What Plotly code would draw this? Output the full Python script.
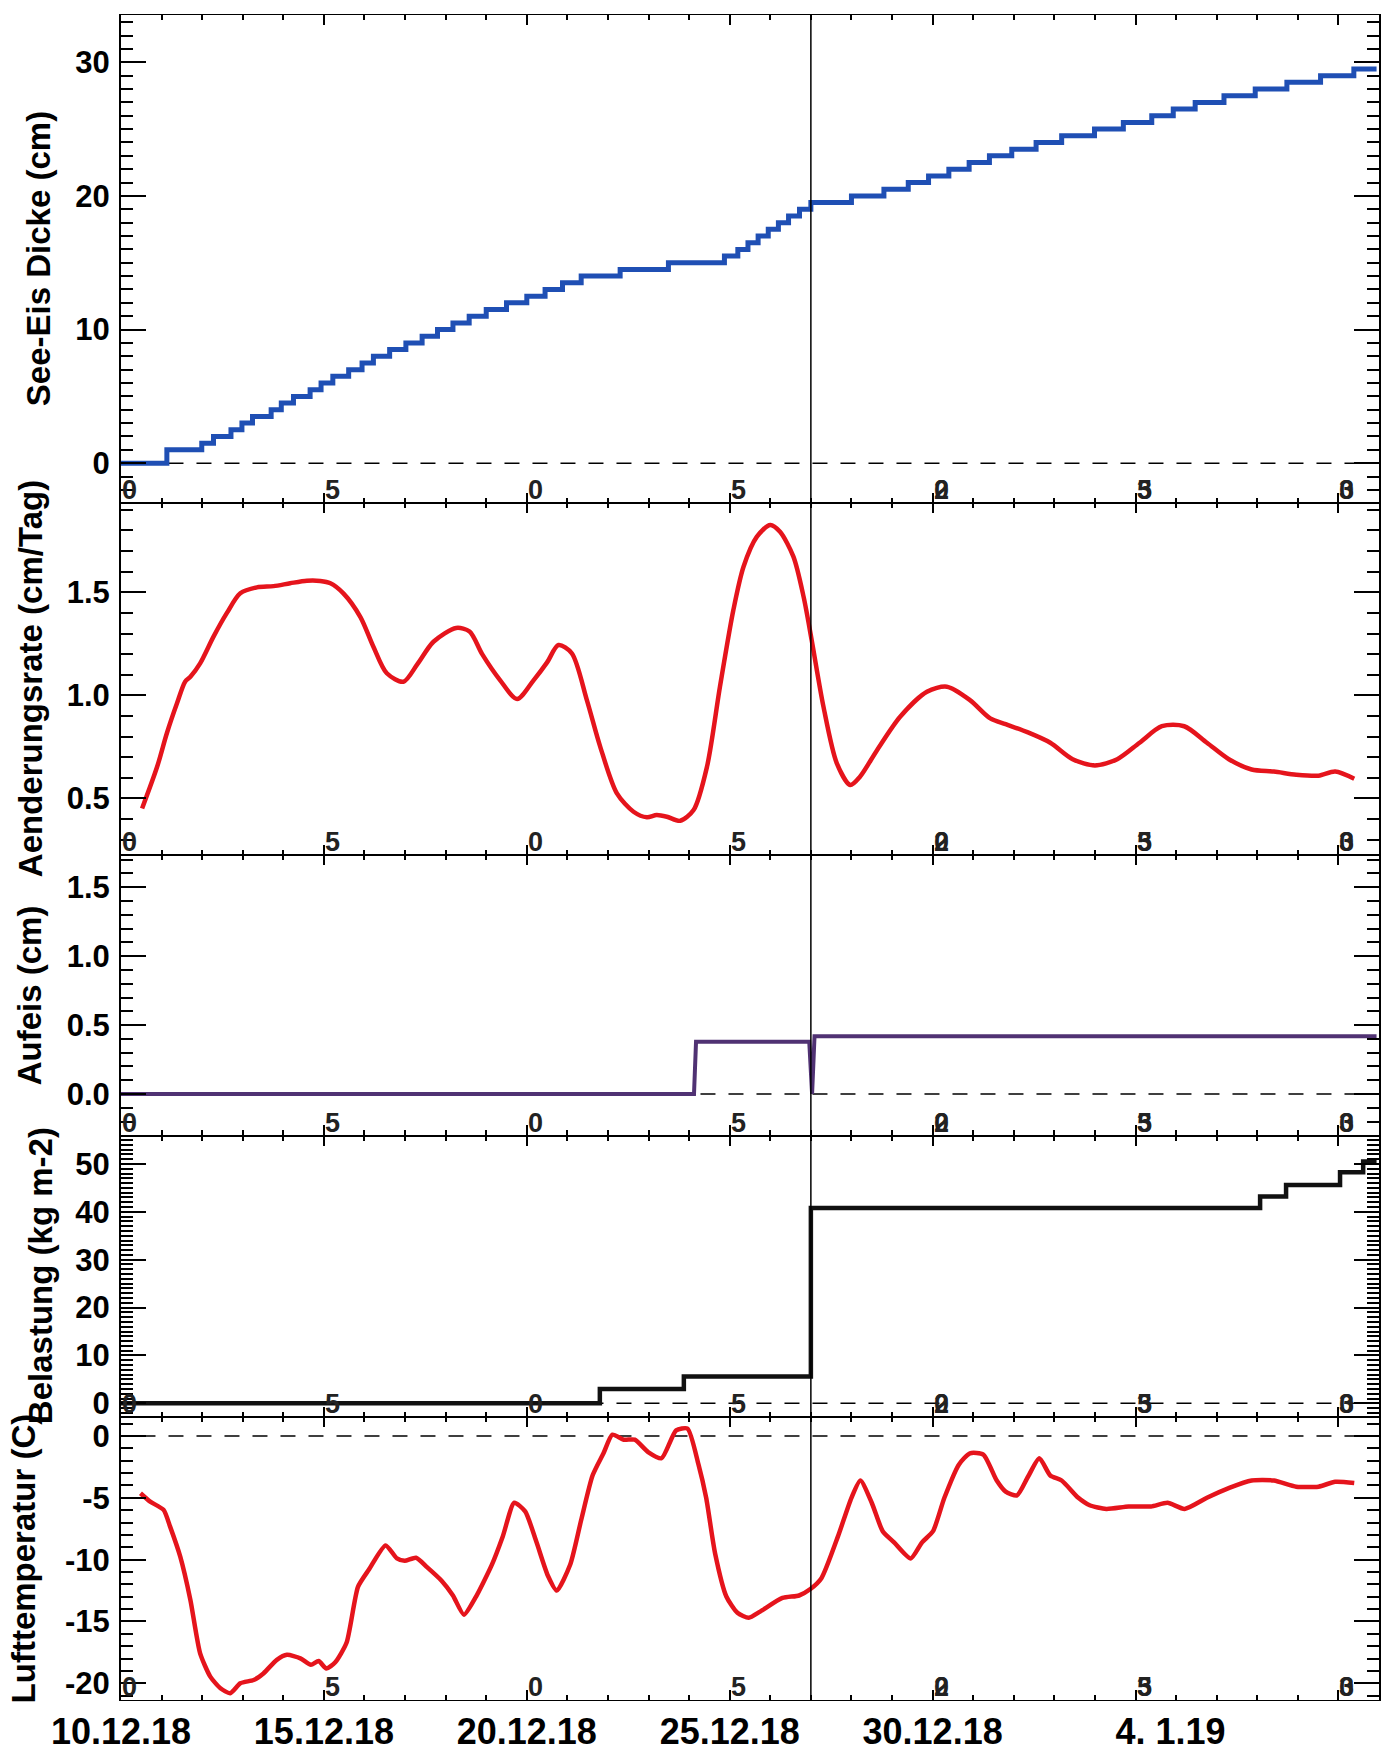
import plotly.graph_objects as go

# ---------------- data (days since 10.12.18) ----------------
ice_days = [0.0, 1.13, 1.99, 2.28, 2.71, 2.98, 3.24, 3.70, 3.95, 4.25, 4.66, 4.93, 5.22, 5.61, 5.94,
            6.22, 6.62, 7.02, 7.42, 7.80, 8.18, 8.58, 9.00, 9.50, 10.00, 10.45, 10.88, 11.34, 12.30,
            13.49, 14.87, 15.20, 15.45, 15.70, 15.95, 16.20, 16.45, 16.72, 17.00, 18.00, 18.80, 19.40,
            19.90, 20.40, 20.90, 21.40, 21.95, 22.55, 23.18, 23.99, 24.70, 25.40, 25.93, 26.47, 27.18,
            27.95, 28.73, 29.56, 30.38, 30.94]
ice_cm = [0.0, 1.0, 1.5, 2.0, 2.5, 3.0, 3.5, 4.0, 4.5, 5.0, 5.5, 6.0, 6.5, 7.0, 7.5,
          8.0, 8.5, 9.0, 9.5, 10.0, 10.5, 11.0, 11.5, 12.0, 12.5, 13.0, 13.5, 14.0, 14.5,
          15.0, 15.5, 16.0, 16.5, 17.0, 17.5, 18.0, 18.5, 19.0, 19.5, 20.0, 20.5, 21.0,
          21.5, 22.0, 22.5, 23.0, 23.5, 24.0, 24.5, 25.0, 25.5, 26.0, 26.5, 27.0, 27.5,
          28.0, 28.5, 29.0, 29.5, 29.5]

rate_days = [0.52, 0.89, 1.13, 1.38, 1.58, 1.71, 1.95, 2.28, 2.61, 2.94,
             3.35, 3.76, 4.17, 4.58, 4.91, 5.16, 5.48, 5.90, 6.22, 6.55,
             6.96, 7.3, 7.7, 8.26, 8.59, 8.9, 9.34, 9.76, 10.17, 10.5,
             10.78, 11.11, 11.48, 11.81, 12.22, 12.63, 12.96, 13.2, 13.45, 13.78,
             14.11, 14.44, 14.76, 15.09, 15.34, 15.67, 16.0, 16.24, 16.57, 16.82,
             17.02, 17.31, 17.64, 17.97, 18.21, 18.63, 19.2, 19.86, 20.35, 20.92,
             21.42, 21.80, 22.35, 22.90, 23.45, 24.0, 24.55, 25.1, 25.65, 26.2,
             26.76, 27.3, 27.86, 28.41, 28.96, 29.51, 29.92, 30.39]
rate_vals = [0.451, 0.653, 0.816, 0.961, 1.066, 1.09, 1.155, 1.285, 1.40, 1.495,
             1.524, 1.53, 1.544, 1.556, 1.555, 1.544, 1.495, 1.38, 1.236, 1.107,
             1.066, 1.15, 1.26, 1.327, 1.31, 1.2, 1.074, 0.982, 1.074, 1.16,
             1.244, 1.204, 0.977, 0.75, 0.524, 0.435, 0.408, 0.419, 0.411, 0.391,
             0.443, 0.653, 1.042, 1.414, 1.624, 1.77, 1.827, 1.794, 1.673, 1.479,
             1.268, 0.945, 0.670, 0.565, 0.605, 0.734, 0.896, 1.017, 1.042, 0.977,
             0.888, 0.86, 0.82, 0.77, 0.69, 0.66, 0.69, 0.77, 0.85, 0.85,
             0.77, 0.69, 0.64, 0.63, 0.615, 0.61, 0.63, 0.595]

aufeis_days = [0.0, 14.12, 14.17, 16.96, 17.03, 17.09, 30.94]
aufeis_cm = [0.0, 0.0, 0.38, 0.38, 0.0, 0.42, 0.42]

load_days = [0.0, 11.80, 13.87, 17.00, 28.07, 28.71, 30.04, 30.61, 30.94]
load_vals = [0.0, 3.0, 5.6, 40.8, 43.2, 45.6, 48.3, 50.5, 50.5]

temp_days = [0.48, 0.72, 1.05, 1.21, 1.46, 1.71, 1.95, 2.2, 2.45, 2.69,
             2.94, 3.27, 3.51, 3.84, 4.09, 4.42, 4.68, 4.87, 5.06, 5.28,
             5.56, 5.84, 6.11, 6.52, 6.80, 6.99, 7.27, 7.54, 7.90, 8.18,
             8.45, 8.73, 9.14, 9.41, 9.69, 9.96, 10.24, 10.52, 10.74, 11.07,
             11.34, 11.62, 11.89, 12.11, 12.39, 12.66, 12.99, 13.32, 13.68, 13.96,
             14.23, 14.42, 14.64, 14.92, 15.19, 15.47, 15.75, 16.30, 16.71, 16.98,
             17.26, 17.67, 18.00, 18.22, 18.50, 18.77, 19.05, 19.46, 19.74, 20.01,
             20.29, 20.65, 20.92, 21.25, 21.58, 21.80, 22.08, 22.35, 22.63, 22.90,
             23.18, 23.59, 23.87, 24.28, 24.83, 25.38, 25.79, 26.21, 26.76, 27.31,
             27.86, 28.41, 28.96, 29.51, 29.92, 30.39]
temp_vals = [-4.63, -5.31, -5.98, -7.33, -9.76, -13.26, -17.58, -19.46, -20.4, -20.8,
             -20.0, -19.73, -19.2, -18.1, -17.7, -17.98, -18.5, -18.2, -18.8, -18.3,
             -16.7, -12.2, -10.8, -8.85, -9.9, -10.1, -9.85, -10.6, -11.7, -12.9,
             -14.45, -13.1, -10.4, -8.1, -5.4, -6.1, -8.6, -11.3, -12.5, -10.4,
             -6.8, -3.2, -1.4, 0.1, -0.3, -0.3, -1.3, -1.8, 0.45, 0.6,
             -2.3, -5.0, -9.5, -13.0, -14.3, -14.7, -14.2, -13.1, -12.9, -12.4,
             -11.5, -8.1, -5.0, -3.6, -5.4, -7.7, -8.6, -9.9, -8.6, -7.7,
             -5.0, -2.3, -1.4, -1.5, -3.6, -4.5, -4.8, -3.3, -1.8, -3.2,
             -3.6, -5.0, -5.6, -5.9, -5.7, -5.7, -5.4, -5.9, -5.0, -4.2,
             -3.6, -3.6, -4.1, -4.1, -3.7, -3.8]

marker_day = 17.0
date_ticks = [0, 5, 10, 15, 20, 25, 30]
date_labels = ["10.12.18", "15.12.18", "20.12.18", "25.12.18", "30.12.18",
               "\u00a0\u00a0\u00a0\u00a0\u00a0\u00a0\u00a04. 1.19", ""]
temp_ticks = [-20, -15, -10, -5, 0]
temp_tick_labels = ["-20", "-15", "-10", "-5", "0"]
stub_days = [0, 5, 10, 15, 20, 25, 30]
stub_text = ["0", "5", "0", "5", "0", "5", "0"]
stub_over = ["", "", "", "", "2", "3", "3"]

titles = ["See-Eis Dicke (cm)", "Aenderungsrate (cm/Tag)", "Aufeis (cm)",
          "Belastung (kg m-2)", "Lufttemperatur (C)"]

# ---------------- styling ----------------
BLUE = "#1f4fb4"
RED = "#e5141c"
PURPLE = "#503273"
BLACK = "#111111"
W, H = 1390, 1752
ML, MR, MT, MB = 121, 11, 15, 52
bounds = [0.0, 0.16807, 0.33501, 0.50148, 0.71021, 1.0]
domains = [[bounds[4], bounds[5]], [bounds[3], bounds[4]], [bounds[2], bounds[3]],
           [bounds[1], bounds[2]], [bounds[0], bounds[1]]]
yranges = [[-3.0, 33.54], [0.225, 1.932], [-0.301, 1.734], [-2.82, 55.95], [-21.35, 1.55]]
ydt = [10, 0.5, 0.5, 10, 5]
ymin = [1, 0.1, 0.1, 1, 1]
yfmt = ["", ".1f", ".1f", "", ""]
title_px = [38, 30, 29, 40, 23]

fig = go.Figure()
fig.add_trace(go.Scatter(x=ice_days, y=ice_cm, mode="lines",
                         line=dict(color=BLUE, width=5, shape="hv"), xaxis="x", yaxis="y"))
fig.add_trace(go.Scatter(x=rate_days, y=rate_vals, mode="lines",
                         line=dict(color=RED, width=4.5, shape="spline", smoothing=0.8),
                         xaxis="x2", yaxis="y2"))
fig.add_trace(go.Scatter(x=aufeis_days, y=aufeis_cm, mode="lines",
                         line=dict(color=PURPLE, width=4), xaxis="x3", yaxis="y3"))
fig.add_trace(go.Scatter(x=load_days, y=load_vals, mode="lines",
                         line=dict(color=BLACK, width=4.5, shape="hv"), xaxis="x4", yaxis="y4"))
fig.add_trace(go.Scatter(x=temp_days, y=temp_vals, mode="lines",
                         line=dict(color=RED, width=4.5, shape="spline", smoothing=0.6),
                         xaxis="x5", yaxis="y5"))

tickfont = dict(family="Liberation Sans, Arial, sans-serif", size=31, color="black", weight="bold")
narrow = "Liberation Sans Narrow, Arial Narrow, Liberation Sans, sans-serif"

layout = dict(width=W, height=H, margin=dict(l=ML, r=MR, t=MT, b=MB, autoexpand=False),
              plot_bgcolor="white", paper_bgcolor="white", showlegend=False)

annotations = []
shapes = []
for i in range(5):
    n = "" if i == 0 else str(i + 1)
    xa = dict(domain=[0, 1], anchor="y" + n, range=[0, 31], showline=True, linecolor="black",
              linewidth=1.3, mirror="ticks", ticks="inside", ticklen=10, tickwidth=1.5,
              tickcolor="black", tickmode="linear", tick0=0, dtick=5, automargin=False,
              minor=dict(ticks="inside", ticklen=5, tickwidth=1.5, tickcolor="black",
                         tickmode="linear", tick0=0, dtick=1),
              showgrid=False, zeroline=False, showticklabels=False)
    if i == 4:
        xa.update(tickmode="array", tickvals=date_ticks, ticktext=date_labels,
                  showticklabels=True, ticklabelstandoff=0,
                  tickfont=dict(family=narrow, size=36, color="black", weight="bold"))
    ya = dict(domain=domains[i], anchor="x" + n, range=yranges[i], showline=True,
              linecolor="black", linewidth=2, mirror="ticks", ticks="inside", ticklen=25,
              tickwidth=1.5, tickcolor="black", tickmode="linear", tick0=0, dtick=ydt[i],
              minor=dict(ticks="inside", ticklen=12, tickwidth=1.5, tickcolor="black",
                         tickmode="linear", tick0=0, dtick=ymin[i]),
              showgrid=False, zeroline=False, tickfont=tickfont, ticklabelstandoff=3,
              tickformat=yfmt[i], automargin=False)
    if i == 4:
        ya.update(tickmode="array", tickvals=temp_ticks, ticktext=temp_tick_labels)
    layout["xaxis" + n] = xa
    layout["yaxis" + n] = ya

    # y-axis titles
    annotations.append(dict(text=titles[i], xref="paper", yref="paper",
                            x=(title_px[i] - ML) / (W - ML - MR),
                            y=(domains[i][0] + domains[i][1]) / 2,
                            xanchor="center", yanchor="middle", textangle=-90, showarrow=False,
                            font=dict(family="Liberation Sans, Arial, sans-serif", size=33,
                                      color="black", weight="bold")))
    # residual day digits along each panel bottom
    for d, t, o in zip(stub_days, stub_text, stub_over):
        for txt in (t, o):
            if not txt:
                continue
            annotations.append(dict(text=txt, xref="x" + n, yref="y" + n + " domain", x=d, y=0,
                                    xanchor="left", yanchor="bottom", showarrow=False,
                                    yshift=-4, xshift=-1,
                                    font=dict(family=narrow, size=27, color="#222222",
                                              weight="bold")))
    # dashed zero line
    if i != 1:
        shapes.append(dict(type="line", xref="x" + n, yref="y" + n,
                           x0=temp_days[0], x1=temp_days[-1], y0=0, y1=0, layer="below",
                           line=dict(color="black", width=1.6, dash="15px,13px")))

shapes.append(dict(type="line", xref="x", yref="paper", x0=marker_day, x1=marker_day,
                   y0=0, y1=1, line=dict(color="black", width=1.5)))

layout["annotations"] = annotations
layout["shapes"] = shapes
fig.update_layout(**layout)

fig.write_html("out.html", config={"displayModeBar": False},
               post_script="document.body.style.margin='0';document.body.style.overflow='hidden';")
